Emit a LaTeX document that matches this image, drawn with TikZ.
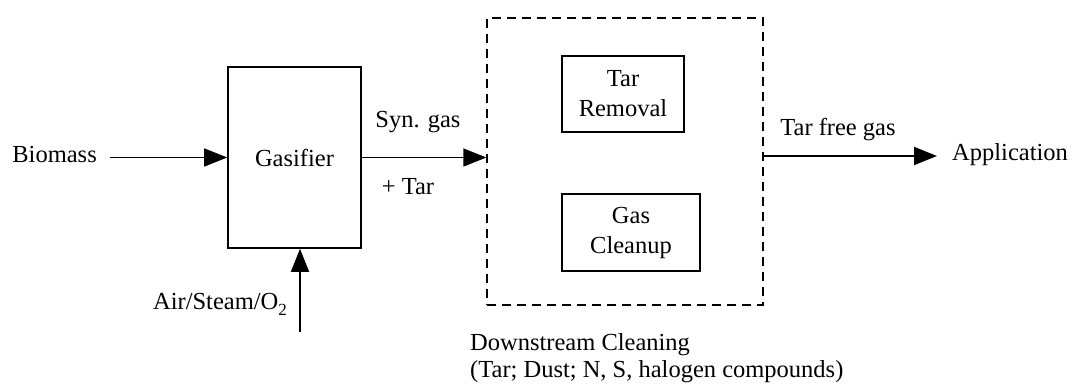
\documentclass[tikz,border=0pt]{standalone}
\usepackage{fontspec}
\setmainfont{Liberation Serif}
\usetikzlibrary{arrows.meta}
\begin{document}
\begin{tikzpicture}[x=1pt,y=-1pt,
  every node/.style={font=\fontsize{24.5}{30}\selectfont, inner sep=0pt},
  box/.style={draw, line width=1.6pt, align=center},
  dbox/.style={draw, line width=1.4pt, dash pattern=on 9pt off 6pt},
  arr/.style={line width=1.6pt, -{Triangle[length=23pt,width=18pt]}},
  lbl/.style={align=left, font=\fontsize{24.5}{27}\selectfont}]
\useasboundingbox[fill=white] (0,0) rectangle (1080,385);
% nodes
\node[box, minimum width=133pt, minimum height=181pt] (gas) at (294.5,157.5) {Gasifier};
\node[anchor=east] (bio) at (97,155) {Biomass};
\node[dbox, minimum width=276pt, minimum height=287pt] (dsc) at (625,161.5) {};
\node[box, minimum width=122pt, minimum height=76pt] (tar) at (623,94) {Tar\\Removal};
\node[box, minimum width=138pt, minimum height=77pt] (clean) at (631,232.5) {Gas\\Cleanup};
\node[anchor=west] (app) at (952,155) {Application};
\node (airl) at (220,304) {Air/Steam/O\raisebox{-6pt}{\fontsize{17}{17}\selectfont 2}};
\coordinate (airstart) at (300,332);
% labels
\node (syn) at (418,122) {Syn. gas};
\node (plustar) at (408,187) {+ Tar};
\node (tfg) at (838,130) {Tar free gas};
\node[lbl, anchor=north west] (down) at (470,333) {Downstream Cleaning\\(Tar; Dust; N, S, halogen compounds)};
% connectors
\draw[arr] ([xshift=13pt]bio.east |- gas.west) -- (gas.west);
\draw[arr] (gas.east) -- (gas.east -| dsc.west);
\draw[arr] (airstart) -- (airstart |- gas.south);
\draw[arr] (dsc.east |- 0,156) -- ([xshift=-15pt]app.west |- 0,156);
\end{tikzpicture}
\end{document}
